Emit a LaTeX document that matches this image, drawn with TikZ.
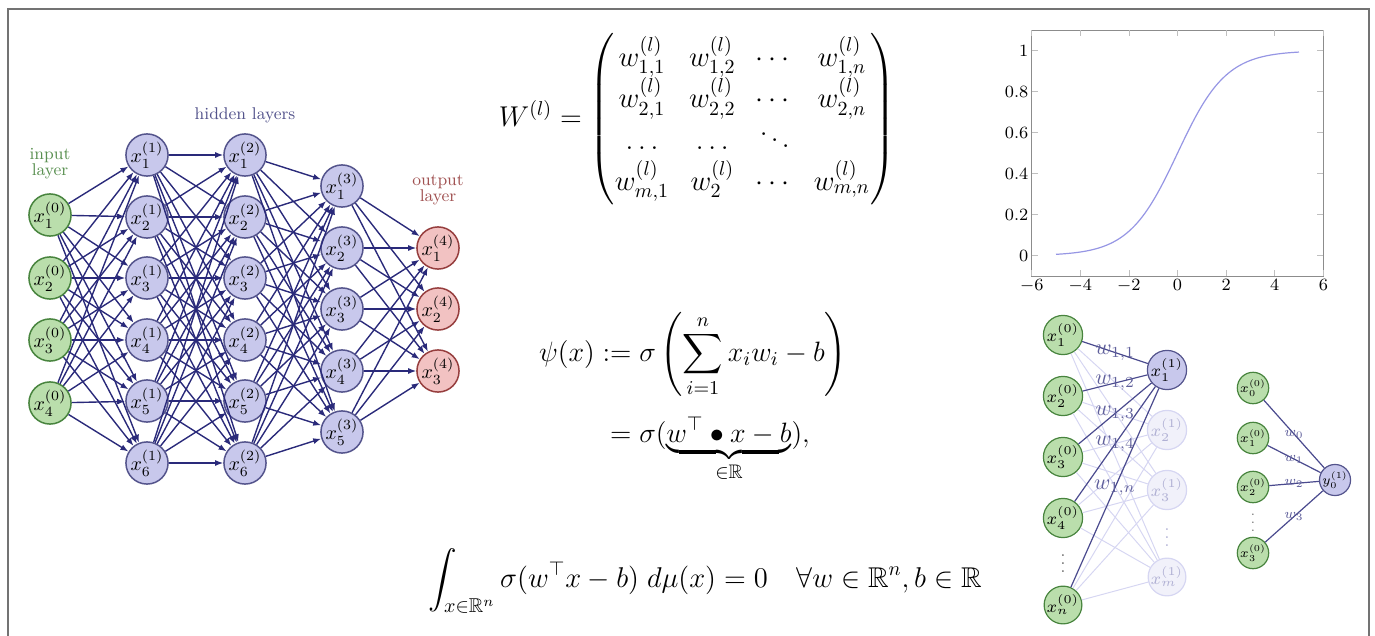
\RequirePackage{fix-cm}
\documentclass[tikz,border=0pt]{standalone}
\usepackage{amsmath,amssymb}
\usetikzlibrary{
    arrows.meta,   % For arrow tips
    positioning    % For label positioning
}

% Colours
\definecolor{inFill}{RGB}{186,222,172}
\definecolor{inLine}{RGB}{72,132,62}
\definecolor{hidFill}{RGB}{200,200,236}
\definecolor{hidLine}{RGB}{84,84,140}
\definecolor{outFill}{RGB}{242,194,194}
\definecolor{outLine}{RGB}{150,62,62}
\definecolor{edgeCol}{RGB}{42,42,122}
\definecolor{fadeCol}{RGB}{214,214,242}
\definecolor{fadeText}{RGB}{176,176,212}
\definecolor{curveCol}{RGB}{150,150,228}

\begin{document}
\begin{tikzpicture}[
    x=0.5pt, y=-0.5pt, % one unit = one pixel of the page, y running down
    neuron/.style={circle, draw, line width=0.75pt, minimum size=20pt, inner sep=0pt,
        font=\fontsize{10}{12}\selectfont},
    inp/.style={neuron, fill=inFill, draw=inLine},
    hid/.style={neuron, fill=hidFill, draw=hidLine},
    outp/.style={neuron, fill=outFill, draw=outLine},
    conn/.style={-{Latex[length=4pt,width=3pt]}, draw=edgeCol, line width=0.7pt},
    title/.style={font=\fontsize{8.5}{8}\selectfont, align=center, inner sep=0pt},
    % small networks on the right
    unit/.style={circle, draw, line width=0.6pt, minimum size=16.5pt, inner sep=0pt,
        font=\fontsize{8.5}{10}\selectfont},
    tinyunit/.style={unit, minimum size=13.5pt, font=\fontsize{6.5}{8}\selectfont},
    weight/.style={draw=edgeCol!85, line width=0.6pt},
    faded/.style={draw=fadeCol, line width=0.5pt},
    wlabel/.style={midway, inner sep=0pt, text=edgeCol!75, font=\fontsize{11}{13}\selectfont},
    wlabelsmall/.style={wlabel, font=\fontsize{7}{8}\selectfont},
    % sigmoid plot
    plotFrame/.style={draw=black!45, line width=0.5pt},
    tickMark/.style={draw=black!25, line width=0.4pt},
    tickLbl/.style={inner sep=1.5pt, font=\fontsize{8.6}{10}\selectfont},
    formula/.style={inner sep=0pt, font=\fontsize{14.3}{17}\selectfont}
]
    \useasboundingbox (0,0) rectangle (1375,636);

    % Outer frame (open at the bottom)
    \draw[black!55, line width=1pt] (8,650) -- (8,9) -- (1369,9) -- (1369,650);

    % --- Deep network ---
    \foreach \i/\y in {1/215,2/278,3/340,4/403}
        \node[inp] (in-\i) at (50,\y) {$x_{\i}^{(0)}$};
    \foreach \i/\y in {1/155,2/217,3/278,4/340,5/401,6/463} {
        \node[hid] (hA-\i) at (147,\y) {$x_{\i}^{(1)}$};
        \node[hid] (hB-\i) at (245,\y) {$x_{\i}^{(2)}$};
    }
    \foreach \i/\y in {1/186,2/248,3/309,4/371,5/432}
        \node[hid] (hC-\i) at (342,\y) {$x_{\i}^{(3)}$};
    \foreach \i/\y in {1/248,2/309,3/371}
        \node[outp] (out-\i) at (438,\y) {$x_{\i}^{(4)}$};

    % Fully connected layers
    \foreach \i in {1,...,4}
        \foreach \j in {1,...,6}
            \draw[conn] (in-\i) -- (hA-\j);
    \foreach \i in {1,...,6}
        \foreach \j in {1,...,6}
            \draw[conn] (hA-\i) -- (hB-\j);
    \foreach \i in {1,...,6}
        \foreach \j in {1,...,5}
            \draw[conn] (hB-\i) -- (hC-\j);
    \foreach \i in {1,...,5}
        \foreach \j in {1,...,3}
            \draw[conn] (hC-\i) -- (out-\j);

    % Layer titles
    \node[title, text=inLine!90, above=7pt of in-1] (inTitle) {input\\layer};
    \node[title, text=hidLine, above=5pt of hB-1] (hidTitle) {hidden layers};
    \node[title, text=outLine!90, above=10.5pt of out-1] (outTitle) {output\\layer};

    % --- Weight matrix ---
    \node[formula] (wmat) at (697,119) {$W^{(l)} = \begin{pmatrix}
        w_{1,1}^{(l)} & w_{1,2}^{(l)} & \cdots & w_{1,n}^{(l)}\\
        w_{2,1}^{(l)} & w_{2,2}^{(l)} & \cdots & w_{2,n}^{(l)}\\
        \ldots & \ldots & \ddots & \\
        w_{m,1}^{(l)} & w_{2}^{(l)} & \cdots & w_{m,n}^{(l)}
    \end{pmatrix}$};

    % --- Neuron output ---
    \node[formula, font=\fontsize{14}{17}\selectfont] (psi) at (693,397) {$\begin{aligned}
        \psi(x) &:= \sigma\left(\sum_{i=1}^{n} x_i w_i - b\right)\\[6pt]
        &\mathrel{\phantom{:}}= \sigma(\underbrace{w^{\top}\bullet x - b}_{\in\mathbb{R}}),
    \end{aligned}$};

    % --- Discriminatory condition ---
    \node[formula, anchor=base] (intEq) at (705,587) {$\displaystyle
        \int_{x\in\mathbb{R}^n} \sigma(w^{\top}x - b)\; d\mu(x) = 0
        \quad \forall w\in\mathbb{R}^n, b\in\mathbb{R}$};

    % --- Sigmoid plot: x = 1177.5 + 24.3 t, y = 255.7 - 205 s ---
    \draw[plotFrame] (1031.7,30.2) rectangle (1323.3,276.2);
    \foreach \t [count=\k] in {-6,-4,...,6} {
        \draw[tickMark] ({1177.5+24.3*\t},276.2) -- ++(0,-6);
        \draw[tickMark] ({1177.5+24.3*\t},30.2) -- ++(0,6);
        \node[tickLbl, below] (xl\k) at ({1177.5+24.3*\t},276.2) {$\t$};
    }
    \foreach \s [count=\k] in {0,0.2,0.4,0.6,0.8,1} {
        \draw[tickMark] (1031.7,{255.7-205*\s}) -- ++(6,0);
        \draw[tickMark] (1323.3,{255.7-205*\s}) -- ++(-6,0);
        \node[tickLbl, left] (yl\k) at (1031.7,{255.7-205*\s}) {$\s$};
    }
    \draw[curveCol, line width=0.6pt] plot[domain=-5:5, samples=80, smooth]
        ({1177.5+24.3*\x}, {255.7-205/(1+exp(-\x))});

    % --- Single layer, weights of the first unit ---
    \foreach \i/\y in {1/335,2/396,3/457,4/518,n/605}
        \node[unit, fill=inFill, draw=inLine] (a-\i) at (1063,\y) {$x_{\i}^{(0)}$};
    \node[text=black!60, font=\fontsize{8.5}{10}\selectfont] (aDots) at (1063,558) {$\vdots$};
    \node[unit, fill=hidFill, draw=hidLine] (b-1) at (1167,370) {$x_{1}^{(1)}$};
    \foreach \i/\y in {2/430,3/490,m/577}
        \node[unit, fill=hidFill!25, draw=fadeCol, text=fadeText] (b-\i) at (1167,\y) {$x_{\i}^{(1)}$};
    \node[text=fadeText, font=\fontsize{8.5}{10}\selectfont] (bDots) at (1167,532) {$\vdots$};

    \foreach \i in {1,2,3,4,n}
        \foreach \j in {2,3,m}
            \draw[faded] (a-\i) -- (b-\j);
    \foreach \i in {1,2,3,4,n}
        \draw[weight] (a-\i) -- (b-1) node[wlabel] {$w_{1,\i}$};

    % --- Single unit ---
    \foreach \i/\y in {0/388,1/438,2/487,3/553}
        \node[tinyunit, fill=inFill, draw=inLine] (c-\i) at (1253,\y) {$x_{\i}^{(0)}$};
    \node[text=black!60, font=\fontsize{6.5}{8}\selectfont] (cDots) at (1253,517) {$\vdots$};
    \node[tinyunit, fill=hidFill, draw=hidLine] (y-0) at (1335,480) {$y_{0}^{(1)}$};
    \foreach \i in {0,...,3}
        \draw[weight] (c-\i) -- (y-0) node[wlabelsmall] {$w_{\i}$};

\end{tikzpicture}
\end{document}
